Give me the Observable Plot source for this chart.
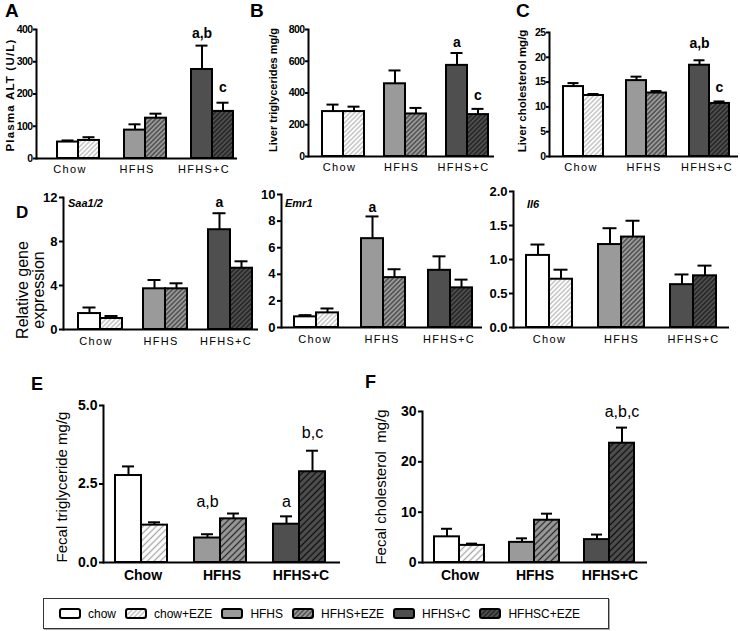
<!DOCTYPE html>
<html><head><meta charset="utf-8">
<script src="https://cdn.jsdelivr.net/npm/d3@7"></script>
<script src="https://cdn.jsdelivr.net/npm/@observablehq/plot@0.6"></script>
<style>
body{margin:0;background:#fff;}
#fig{position:relative;width:740px;height:631px;overflow:hidden;font-family:"Liberation Sans",Arial,sans-serif;color:#000;}
.t{position:absolute;white-space:nowrap;line-height:1;}
.rot{transform:translate(-50%,-50%) rotate(-90deg);text-align:center;}
#legend{position:absolute;left:43px;top:598px;width:566px;height:31px;border:1px solid #333;box-shadow:1px 1px 0 #aaa;box-sizing:border-box;display:flex;align-items:center;}
#legend .lg-swatches{font:12px "Liberation Sans",Arial,sans-serif;margin:0;min-height:0;padding-left:16px;}
#legend .lg-swatch{margin-right:10px;}
#legend .lg-swatch > svg{margin-right:8px;}
#legend .lg-swatch rect{stroke:#000;stroke-width:2px;rx:2px;}
</style></head><body>
<svg width="0" height="0" style="position:absolute"><defs id="pats"></defs></svg>
<div id="fig"></div>
<script>
// ---------- data ----------
const groups = ["Chow", "HFHS", "HFHS+C"];
const treatments = ["Vehicle", "EZE"];
const series = ["chow", "chow+EZE", "HFHS", "HFHS+EZE", "HFHS+C", "HFHSC+EZE"];

// A: Plasma ALT (U/L)
const altValues = [51, 56, 88, 125, 276, 146];
const altErr = [5, 10, 18, 14, 74, 27];
const altTicks = [0, 100, 200, 300, 400];
const altNoteLabels = ["a,b", "c"];
const altNoteBars = [4, 5];
const altNoteY = [388, 220];

// B: Liver triglycerides mg/g
const ltgValues = [283, 283, 458, 268, 574, 264];
const ltgErr = [44, 31, 84, 38, 78, 36];
const ltgTicks = [0, 200, 400, 600, 800];
const ltgNoteLabels = ["a", "c"];
const ltgNoteBars = [4, 5];
const ltgNoteY = [718, 384];

// C: Liver cholesterol mg/g
const lchValues = [14.1, 12.3, 15.3, 12.8, 18.4, 10.7];
const lchErr = [0.7, 0.3, 0.8, 0.4, 1.0, 0.4];
const lchTicks = [0, 5, 10, 15, 20, 25];
const lchNoteLabels = ["a,b", "c"];
const lchNoteBars = [4, 5];
const lchNoteY = [22.8, 13.9];

// D: Saa1/2, Emr1, Il6 relative gene expression
const saaValues = [1.45, 1.0, 3.7, 3.7, 9.07, 5.57];
const saaErr = [0.55, 0.23, 0.8, 0.5, 1.5, 0.63];
const saaTicks = [0, 4, 8, 12];
const saaNoteLabels = ["a"];
const saaNoteBars = [4];
const saaNoteY = [11.5];

const emrValues = [0.8, 1.1, 6.68, 3.75, 4.3, 2.98];
const emrErr = [0.13, 0.33, 1.67, 0.63, 1.05, 0.62];
const emrTicks = [0, 2, 4, 6, 8, 10];
const emrNoteLabels = ["a"];
const emrNoteBars = [2];
const emrNoteY = [9.0];

const il6Values = [1.06, 0.71, 1.22, 1.33, 0.63, 0.76];
const il6Err = [0.16, 0.14, 0.24, 0.24, 0.15, 0.15];
const il6Ticks = [0, 0.5, 1.0, 1.5, 2.0];

// E: Fecal triglyceride mg/g
const ftgValues = [2.77, 1.19, 0.78, 1.39, 1.22, 2.89];
const ftgErr = [0.29, 0.09, 0.12, 0.17, 0.25, 0.67];
const ftgTicks = [0, 2.5, 5.0];
const ftgNoteLabels = ["a,b", "a", "b,c"];
const ftgNoteBars = [2, 4, 5];
const ftgNoteY = [1.94, 1.94, 4.14];

// F: Fecal cholesterol mg/g
const fchValues = [5.1, 3.4, 4.0, 8.4, 4.55, 23.7];
const fchErr = [1.6, 0.35, 0.8, 1.3, 1.0, 3.1];
const fchTicks = [0, 10, 20, 30];
const fchNoteLabels = ["a,b,c"];
const fchNoteBars = [5];
const fchNoteY = [29.9];

// ---------- styling ----------
const FONT = '"Liberation Sans", Arial, sans-serif';

// hatch patterns
(function () {
  const defs = document.getElementById("pats");
  const specs = [["w", "#ffffff", "#a8a8a8"], ["g", "#9a9a9a", "#2a2a2a"], ["d", "#4f4f4f", "#101010"]];
  const sizes = [["s", 3.3, 1], ["l", 4.6, 1.3]];
  let html = "";
  for (const [k, bg, fg] of specs) for (const [sz, w, lw] of sizes) {
    html += `<pattern id="h${k}${sz}" patternUnits="userSpaceOnUse" width="${w}" height="${w}" patternTransform="rotate(45)"><rect width="${w}" height="${w}" fill="${bg}"/><line x1="${w/2}" y1="0" x2="${w/2}" y2="${w}" stroke="${fg}" stroke-width="${lw}"/></pattern>`;
  }
  defs.innerHTML = html;
})();
const fillsS = ["#ffffff", "url(#hws)", "#9a9a9a", "url(#hgs)", "#4f4f4f", "url(#hds)"];
const fillsL = ["#ffffff", "url(#hwl)", "#9a9a9a", "url(#hgl)", "#4f4f4f", "url(#hdl)"];

const fig = document.getElementById("fig");

function drawPanel(c) {
  const rows = series.map((s, i) => ({
    series: s, group: groups[Math.floor(i / 2)], treat: treatments[i % 2],
    value: c.values[i], err: c.err[i]
  }));
  const notes = (c.noteLabels || []).map((t, k) => ({
    label: t, group: rows[c.noteBars[k]].group, treat: rows[c.noteBars[k]].treat, y: c.noteY[k]
  }));
  const svg = Plot.plot({
    width: c.width, height: c.height,
    marginLeft: c.mL, marginRight: c.mR, marginTop: c.mT, marginBottom: c.mB,
    style: {background: "none", overflow: "visible", fontFamily: FONT, color: "#000"},
    fx: {domain: groups, padding: 0, label: null},
    x: {domain: treatments, paddingInner: 0, paddingOuter: c.po, align: c.align, axis: null},
    y: {domain: c.domain, label: null},
    color: {domain: series, range: c.fills},
    marks: [
      Plot.barY(rows, {fx: "group", x: "treat", y: "value", fill: "series", stroke: "#000", strokeWidth: c.sw}),
      Plot.ruleX(rows, {fx: "group", x: "treat", y1: "value", y2: d => d.value + d.err, stroke: "#000", strokeWidth: c.sw}),
      Plot.tickY(rows, {fx: "group", x: "treat", y: d => d.value + d.err, stroke: "#000", strokeWidth: c.sw, insetLeft: c.cap, insetRight: c.cap}),
      Plot.ruleY([c.domain[0]], {stroke: "#000", strokeWidth: c.aw}),
      Plot.frame({anchor: "left", facetAnchor: "left", stroke: "#000", strokeWidth: c.aw}),
      Plot.axisY({ticks: c.ticks, tickFormat: c.fmt, tickSize: c.tickSize, tickPadding: c.tickPad, strokeWidth: c.aw,
        fontSize: c.yFont, fontWeight: "bold", fontFamily: FONT, label: null}),
      Plot.axisFx({anchor: "bottom", tickSize: 0, tickPadding: c.xPad, fontSize: c.xFont, fontWeight: c.xWeight, fontFamily: FONT, label: null}),
      Plot.text(notes, {fx: "group", x: "treat", y: "y", text: "label", fontSize: c.noteFont, fontWeight: c.noteWeight, fontFamily: FONT})
    ]
  });
  svg.querySelectorAll('[aria-label="fx-axis tick label"] text').forEach(t => t.style.letterSpacing = c.xls);
  svg.querySelectorAll('[aria-label="y-axis tick label"] text').forEach(t => t.style.letterSpacing = c.yls);
  svg.style.position = "absolute";
  svg.style.left = c.left + "px";
  svg.style.top = c.top + "px";
  svg.style.maxWidth = "none";
  fig.appendChild(svg);
}

const smallBase = {fills: fillsS, sw: 2, aw: 2, cap: 4.5, tickSize: 3, tickPad: 1, yFont: 10.5, yls: "-0.6px",
  xPad: 7, xFont: 11, xWeight: "normal", xls: "1.3px", noteFont: 14, noteWeight: "bold"};

drawPanel({...smallBase, left: 0, top: 0, width: 240, height: 185, mL: 36, mR: 3, mT: 29, mB: 27, po: 0.54, align: 0.82,
  domain: [0, 400], ticks: altTicks, values: altValues, err: altErr,
  noteLabels: altNoteLabels, noteBars: altNoteBars, noteY: altNoteY});
drawPanel({...smallBase, left: 240, top: 0, width: 258, height: 185, mL: 67, mR: 3, mT: 29, mB: 29, po: 0.46, align: 0.71,
  domain: [0, 800], ticks: ltgTicks, values: ltgValues, err: ltgErr,
  noteLabels: ltgNoteLabels, noteBars: ltgNoteBars, noteY: ltgNoteY});
drawPanel({...smallBase, left: 490, top: 0, width: 250, height: 185, mL: 58, mR: 2, mT: 32, mB: 29, po: 0.51, align: 0.6,
  domain: [0, 25], ticks: lchTicks, values: lchValues, err: lchErr,
  noteLabels: lchNoteLabels, noteBars: lchNoteBars, noteY: lchNoteY});

const dBase = {...smallBase, yFont: 13, yls: "0px", tickSize: 4, tickPad: 2, xPad: 8, noteFont: 14};
drawPanel({...dBase, left: 0, top: 180, width: 262, height: 180, mL: 63, mR: 4, mT: 17, mB: 31, po: 0.44, align: 0.7,
  domain: [0, 12], ticks: saaTicks, values: saaValues, err: saaErr,
  noteLabels: saaNoteLabels, noteBars: saaNoteBars, noteY: saaNoteY});
drawPanel({...dBase, left: 240, top: 180, width: 250, height: 180, mL: 41, mR: 8, mT: 14, mB: 33, po: 0.49, align: 0.55,
  domain: [0, 10], ticks: emrTicks, values: emrValues, err: emrErr,
  noteLabels: emrNoteLabels, noteBars: emrNoteBars, noteY: emrNoteY});
drawPanel({...dBase, left: 490, top: 180, width: 250, height: 180, mL: 23, mR: 11, mT: 11, mB: 33, po: 0.565, align: 0.5,
  domain: [0, 2], ticks: il6Ticks, fmt: d3.format(".1f"), values: il6Values, err: il6Err});

const bigBase = {fills: fillsL, sw: 2, aw: 2, cap: 7, tickSize: 4, tickPad: 2, yFont: 14, yls: "0px",
  xPad: 8, xFont: 14, xWeight: "bold", xls: "0px", noteFont: 16, noteWeight: "normal"};
drawPanel({...bigBase, left: 0, top: 380, width: 350, height: 210, mL: 103, mR: 10, mT: 25, mB: 28, po: 0.49, align: 0.45,
  domain: [0, 5], ticks: ftgTicks, fmt: d3.format(".1f"), values: ftgValues, err: ftgErr,
  noteLabels: ftgNoteLabels, noteBars: ftgNoteBars, noteY: ftgNoteY});
drawPanel({...bigBase, left: 360, top: 380, width: 300, height: 210, mL: 61, mR: 12, mT: 31, mB: 28, po: 0.476, align: 0.46,
  domain: [0, 30], ticks: fchTicks, values: fchValues, err: fchErr,
  noteLabels: fchNoteLabels, noteBars: fchNoteBars, noteY: fchNoteY});

// ---------- text labels ----------
function addText(html, x, baseline, size, css) {
  const d = document.createElement("div");
  d.className = "t";
  d.innerHTML = html;
  d.style.cssText += `left:${x}px;top:${baseline - 0.8465 * size}px;font-size:${size}px;${css || ""}`;
  fig.appendChild(d);
}
function addRot(html, cx, cy, size, css) {
  const d = document.createElement("div");
  d.className = "t rot";
  d.innerHTML = html;
  d.style.cssText += `left:${cx}px;top:${cy}px;font-size:${size}px;${css || ""}`;
  fig.appendChild(d);
}
const B = "font-weight:bold;";
addText("A", 5, 17, 19, B);
addText("B", 250, 17, 19, B);
addText("C", 516, 17, 19, B);
addText("D", 16, 218, 17, B);
addText("E", 31, 390, 18, B);
addText("F", 365, 388, 18, B);

addRot("Plasma ALT (U/L)", 11, 95, 11.5, B + "letter-spacing:1.2px;");
addRot("Liver triglycerides mg/g", 273, 90, 11, B);
addRot("Liver cholesterol mg/g", 523, 91, 11.5, B);
addRot("Relative gene<br>expression", 31, 290, 16, "line-height:16px;");
addRot("Fecal triglyceride mg/g", 61, 487, 15, "");
addRot("Fecal cholesterol&nbsp; mg/g", 380, 487, 15, "");

addText("Saa1/2", 68, 207, 11, B + "font-style:italic;");
addText("Emr1", 285, 207, 11, B + "font-style:italic;");
addText("Il6", 527, 208, 11, B + "font-style:italic;");

// ---------- legend ----------
const leg = document.createElement("div");
leg.id = "legend";
leg.appendChild(Plot.legend({color: {domain: series, range: fillsS}, swatchWidth: 20, swatchHeight: 9, className: "lg"}));
fig.appendChild(leg);
</script>
</body></html>
